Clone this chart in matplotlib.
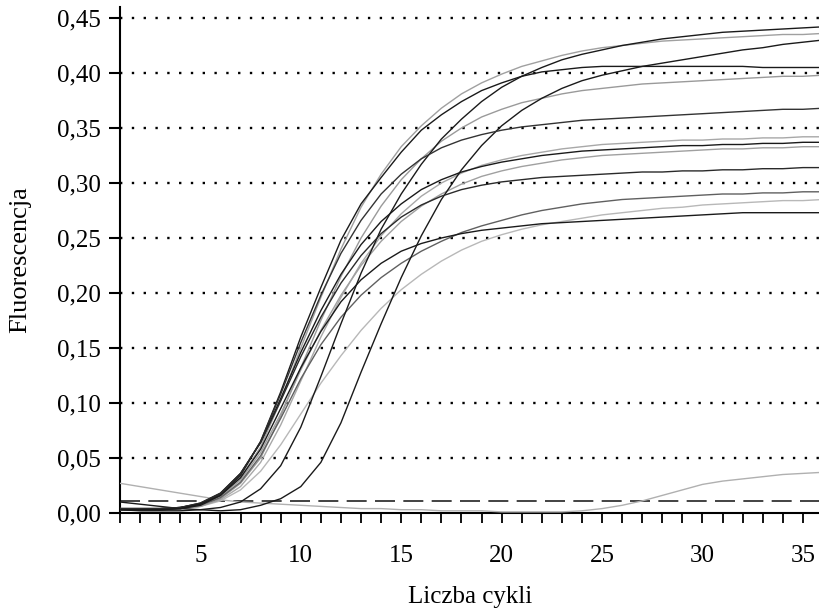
import matplotlib
matplotlib.use("Agg")
import matplotlib.pyplot as plt
from matplotlib.ticker import MultipleLocator, FuncFormatter

# cycle numbers shared by all curves
cycles = list(range(1, 37))

curve_a = [0.003, 0.002, 0.002, 0.002, 0.003, 0.005, 0.010, 0.022, 0.043, 0.078,
           0.124, 0.172, 0.218, 0.258, 0.290, 0.317, 0.340, 0.358, 0.374, 0.387,
           0.397, 0.405, 0.412, 0.417, 0.421, 0.425, 0.428, 0.431, 0.433, 0.435,
           0.437, 0.438, 0.439, 0.440, 0.441, 0.442]
curve_b = [0.004, 0.004, 0.004, 0.005, 0.008, 0.016, 0.032, 0.060, 0.102, 0.150,
           0.196, 0.240, 0.278, 0.308, 0.333, 0.352, 0.368, 0.381, 0.391, 0.399,
           0.406, 0.411, 0.416, 0.420, 0.423, 0.425, 0.427, 0.429, 0.430, 0.431,
           0.432, 0.433, 0.434, 0.435, 0.435, 0.436]
curve_c = [0.010, 0.008, 0.006, 0.004, 0.003, 0.002, 0.003, 0.007, 0.013, 0.024,
           0.046, 0.082, 0.128, 0.172, 0.214, 0.252, 0.285, 0.312, 0.334, 0.352,
           0.366, 0.377, 0.386, 0.393, 0.398, 0.402, 0.406, 0.409, 0.412, 0.415,
           0.418, 0.421, 0.423, 0.426, 0.428, 0.430]
curve_d = [0.003, 0.003, 0.003, 0.004, 0.007, 0.016, 0.034, 0.065, 0.110, 0.160,
           0.205, 0.248, 0.281, 0.305, 0.328, 0.348, 0.362, 0.374, 0.384, 0.391,
           0.397, 0.401, 0.403, 0.405, 0.406, 0.406, 0.406, 0.406, 0.406, 0.406,
           0.406, 0.406, 0.405, 0.405, 0.405, 0.405]
curve_e = [0.003, 0.003, 0.003, 0.004, 0.006, 0.013, 0.027, 0.050, 0.088, 0.132,
           0.175, 0.215, 0.250, 0.279, 0.303, 0.322, 0.338, 0.350, 0.360, 0.367,
           0.373, 0.377, 0.381, 0.384, 0.386, 0.388, 0.390, 0.391, 0.392, 0.393,
           0.394, 0.395, 0.396, 0.397, 0.397, 0.398]
curve_f = [0.004, 0.004, 0.004, 0.005, 0.008, 0.017, 0.035, 0.065, 0.108, 0.155,
           0.198, 0.236, 0.266, 0.290, 0.308, 0.322, 0.332, 0.339, 0.344, 0.348,
           0.351, 0.353, 0.355, 0.357, 0.358, 0.359, 0.360, 0.361, 0.362, 0.363,
           0.364, 0.365, 0.366, 0.367, 0.367, 0.368]
curve_g = [0.003, 0.003, 0.003, 0.004, 0.006, 0.012, 0.024, 0.046, 0.080, 0.120,
           0.160, 0.196, 0.227, 0.252, 0.272, 0.288, 0.300, 0.309, 0.316, 0.321,
           0.325, 0.328, 0.331, 0.333, 0.335, 0.336, 0.337, 0.338, 0.339, 0.339,
           0.340, 0.340, 0.341, 0.341, 0.342, 0.342]
curve_h = [0.004, 0.004, 0.004, 0.005, 0.009, 0.018, 0.036, 0.064, 0.104, 0.146,
           0.184, 0.217, 0.244, 0.265, 0.281, 0.294, 0.303, 0.310, 0.315, 0.319,
           0.322, 0.325, 0.327, 0.329, 0.330, 0.331, 0.332, 0.333, 0.334, 0.334,
           0.335, 0.335, 0.336, 0.336, 0.337, 0.337]
curve_i = [0.004, 0.004, 0.004, 0.005, 0.008, 0.015, 0.030, 0.055, 0.090, 0.130,
           0.166, 0.198, 0.225, 0.247, 0.265, 0.279, 0.290, 0.299, 0.306, 0.311,
           0.315, 0.318, 0.321, 0.323, 0.325, 0.326, 0.327, 0.328, 0.329, 0.330,
           0.331, 0.331, 0.332, 0.332, 0.333, 0.333]
curve_j = [0.004, 0.004, 0.004, 0.005, 0.009, 0.018, 0.036, 0.064, 0.102, 0.142,
           0.178, 0.209, 0.234, 0.254, 0.269, 0.280, 0.288, 0.294, 0.298, 0.301,
           0.303, 0.305, 0.306, 0.307, 0.308, 0.309, 0.310, 0.310, 0.311, 0.311,
           0.312, 0.312, 0.313, 0.313, 0.314, 0.314]
curve_k = [0.003, 0.003, 0.003, 0.004, 0.007, 0.014, 0.028, 0.052, 0.086, 0.122,
           0.153, 0.178, 0.198, 0.214, 0.227, 0.238, 0.247, 0.255, 0.261, 0.266,
           0.271, 0.275, 0.278, 0.281, 0.283, 0.285, 0.286, 0.287, 0.288, 0.289,
           0.290, 0.290, 0.291, 0.291, 0.292, 0.292]
curve_l = [0.003, 0.003, 0.003, 0.004, 0.006, 0.011, 0.021, 0.038, 0.062, 0.090,
           0.118, 0.143, 0.166, 0.186, 0.203, 0.217, 0.229, 0.239, 0.247, 0.253,
           0.258, 0.262, 0.265, 0.268, 0.271, 0.273, 0.275, 0.277, 0.278, 0.280,
           0.281, 0.282, 0.283, 0.284, 0.284, 0.285]
curve_m = [0.003, 0.003, 0.003, 0.004, 0.008, 0.016, 0.032, 0.058, 0.095, 0.132,
           0.165, 0.192, 0.212, 0.227, 0.238, 0.245, 0.250, 0.254, 0.257, 0.259,
           0.261, 0.263, 0.264, 0.265, 0.266, 0.267, 0.268, 0.269, 0.270, 0.271,
           0.272, 0.273, 0.273, 0.273, 0.273, 0.273]
# sample with no real amplification (drifting baseline, late rise)
curve_n = [0.027, 0.024, 0.021, 0.018, 0.015, 0.012, 0.010, 0.009, 0.008, 0.007,
           0.006, 0.005, 0.004, 0.004, 0.003, 0.003, 0.002, 0.002, 0.002, 0.001,
           0.001, 0.001, 0.001, 0.002, 0.004, 0.007, 0.011, 0.016, 0.021, 0.026,
           0.029, 0.031, 0.033, 0.035, 0.036, 0.037]

threshold = 0.011
y_ticks = [0.00, 0.05, 0.10, 0.15, 0.20, 0.25, 0.30, 0.35, 0.40, 0.45]
x_ticks = [5, 10, 15, 20, 25, 30, 35]

curves = [curve_n, curve_l, curve_g, curve_i, curve_e, curve_b, curve_k,
          curve_a, curve_c, curve_d, curve_f, curve_h, curve_j, curve_m]
colors = ['#b0b0b0', '#b8b8b8', '#a8a8a8', '#a0a0a0', '#9a9a9a', '#a0a0a0', '#606060',
          '#1a1a1a', '#1a1a1a', '#1a1a1a', '#333333', '#1a1a1a', '#2a2a2a', '#1a1a1a']

plt.rcParams['font.family'] = ['Liberation Serif', 'DejaVu Serif']
plt.rcParams['font.size'] = 18

fig = plt.figure(figsize=(8.2, 6.08), dpi=100)
ax = fig.add_axes([120/820, 95/608, 700/820, 506/608])

for y in y_ticks[1:]:
    ax.axhline(y, color='black', linestyle=(0, (1, 4)), linewidth=1.7, zorder=1)

ax.axhline(threshold, color='#222222', linestyle=(0, (12, 5)), linewidth=1.2, zorder=2)

for vals, col in zip(curves, colors):
    ax.plot(cycles, vals, color=col, linewidth=1.0, zorder=3)

ax.set_xlim(1, 35.85)
ax.set_ylim(0, 0.46)
ax.spines['top'].set_visible(False)
ax.spines['right'].set_visible(False)
ax.spines['left'].set_linewidth(1.5)
ax.spines['bottom'].set_linewidth(1.5)

ax.set_yticks(y_ticks)
ax.yaxis.set_major_formatter(FuncFormatter(lambda v, p: f"{v:.2f}".replace('.', ',')))
ax.set_xticks(x_ticks)
ax.xaxis.set_minor_locator(MultipleLocator(1))
ax.tick_params(axis='y', direction='out', length=8, width=1.5, pad=6)
ax.tick_params(axis='x', which='both', direction='out', length=7, width=1.3, pad=16)

ax.set_xlabel("Liczba cykli", labelpad=14)
ax.set_ylabel("Fluorescencja", fontsize=19, labelpad=18)

fig.savefig("out.png", dpi=100)
